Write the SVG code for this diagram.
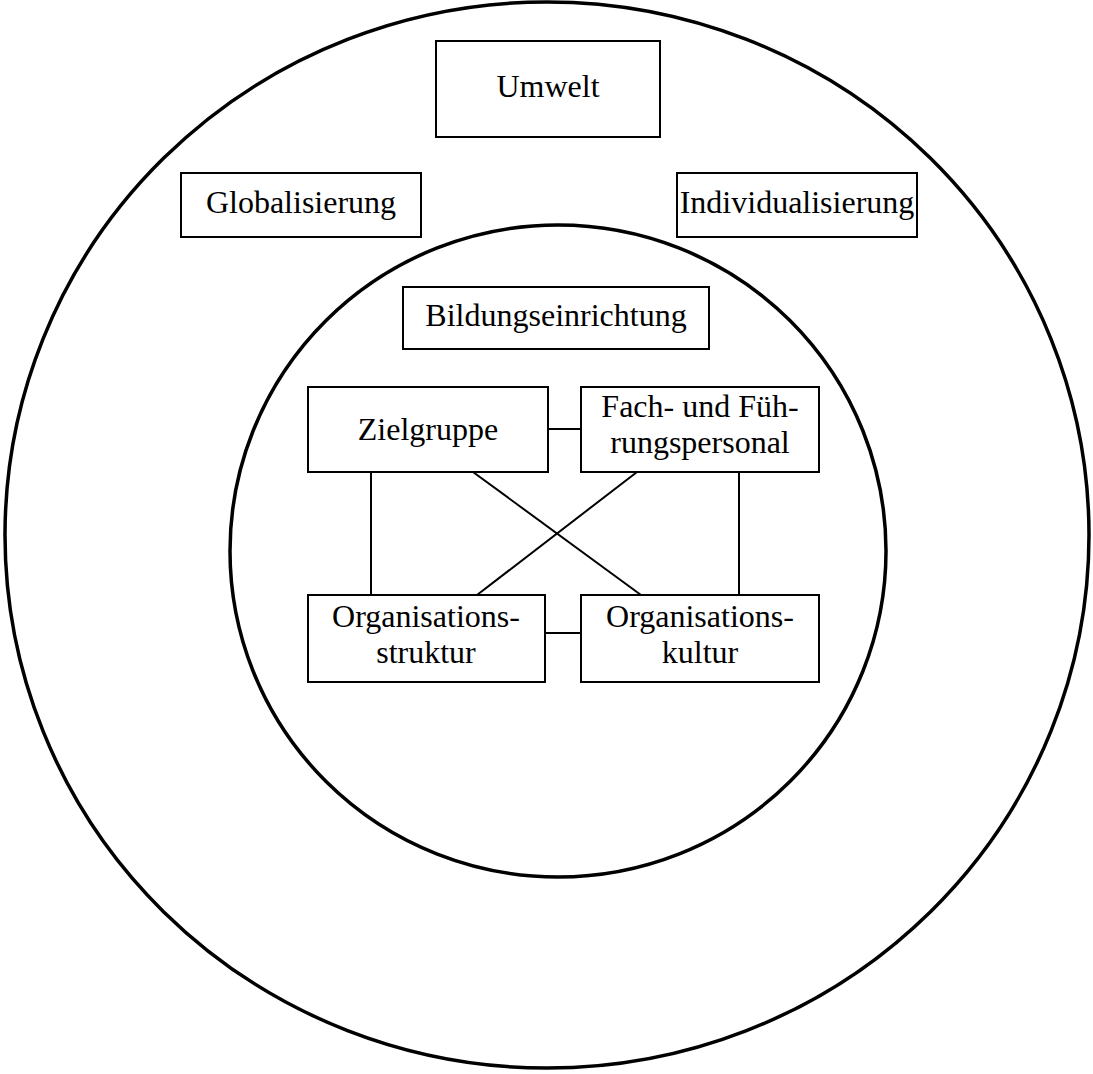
<svg xmlns="http://www.w3.org/2000/svg" width="1093" height="1074" viewBox="0 0 1093 1074">
<style>
.ring{fill:none;stroke:#000;stroke-width:3.5}
.box{fill:#fff;stroke:#000;stroke-width:2}
.t{font-family:"Liberation Serif","Times New Roman",serif;font-size:32px;fill:#000;text-anchor:middle}
.c{stroke:#000;stroke-width:2;fill:none}
</style>
<rect width="1093" height="1074" fill="#fff"/>
<g id="outer"><ellipse class="ring" cx="547" cy="535" rx="542" ry="533"/></g>
<g id="inner"><ellipse class="ring" cx="558" cy="551" rx="328" ry="326"/></g>
<g id="connectors">
<line class="c" x1="548" y1="429" x2="581" y2="429"/>
<line class="c" x1="545" y1="633" x2="581" y2="633"/>
<line class="c" x1="371" y1="472" x2="371" y2="595"/>
<line class="c" x1="739" y1="472" x2="739" y2="595"/>
<line class="c" x1="473" y1="472" x2="641" y2="595"/>
<line class="c" x1="637" y1="472" x2="477" y2="595"/>
</g>
<g id="umwelt"><rect class="box" x="436" y="41" width="224" height="96"/><text class="t" x="548" y="97">Umwelt</text></g>
<g id="globalisierung"><rect class="box" x="181" y="173" width="240" height="64"/><text class="t" x="301" y="213">Globalisierung</text></g>
<g id="individualisierung"><rect class="box" x="677" y="173" width="240" height="64"/><text class="t" x="797" y="213">Individualisierung</text></g>
<g id="bildungseinrichtung"><rect class="box" x="403" y="287" width="306" height="62"/><text class="t" x="556" y="326">Bildungseinrichtung</text></g>
<g id="zielgruppe"><rect class="box" x="308" y="387" width="240" height="85"/><text class="t" x="428" y="440">Zielgruppe</text></g>
<g id="fachpersonal"><rect class="box" x="581" y="387" width="238" height="85"/><text class="t" x="700" y="417">Fach- und Füh-</text><text class="t" x="700" y="453">rungspersonal</text></g>
<g id="organisationsstruktur"><rect class="box" x="308" y="595" width="237" height="87"/><text class="t" x="426" y="627">Organisations-</text><text class="t" x="426" y="663">struktur</text></g>
<g id="organisationskultur"><rect class="box" x="581" y="595" width="238" height="87"/><text class="t" x="700" y="627">Organisations-</text><text class="t" x="700" y="663">kultur</text></g>
</svg>
